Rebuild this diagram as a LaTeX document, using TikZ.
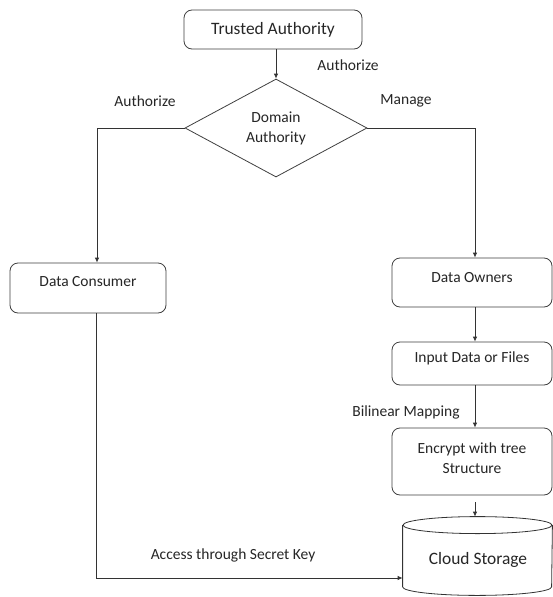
\documentclass[tikz,border=0pt]{standalone}
\usepackage{fontspec}
\setmainfont{Carlito}
\usetikzlibrary{shapes.geometric,arrows.meta,calc}
\begin{document}
\begin{tikzpicture}[x=1pt,y=-1pt,
  line width=0.8pt,
  every node/.style={font=\fontsize{15.5}{20}\selectfont, text=black!85},
  boxn/.style={draw=black!75, rounded corners=8pt, inner sep=0pt},
  arr/.style={draw=black!80, -{Latex[length=5pt,width=4.5pt]}},
  lbl/.style={inner sep=0pt}
]
\useasboundingbox[fill=white] (0,0) rectangle (553,597);

% nodes
\node[boxn, minimum width=178pt, minimum height=39pt, font=\fontsize{17.4}{20}\selectfont] (ta) at (273,29.5) {Trusted Authority};
\node[draw=black!75, diamond, aspect=1.857, minimum width=182pt, minimum height=98pt, inner sep=0pt, align=center] (da) at (276,128) {Domain\\Authority};
\node[boxn, minimum width=156pt, minimum height=50pt,
  label={[lbl, yshift=6pt]center:Data Consumer}] (dc) at (88,288) {};
\node[boxn, minimum width=160pt, minimum height=49pt,
  label={[lbl, yshift=5pt]center:Data Owners}] (dow) at (472,282.5) {};
\node[boxn, minimum width=160pt, minimum height=43pt,
  label={[lbl, yshift=5pt]center:Input Data or Files}] (inp) at (472,363.5) {};
\node[boxn, minimum width=160pt, minimum height=67pt,
  label={[lbl, align=center, yshift=3pt]center:Encrypt with tree\\Structure}] (enc) at (472,461.5) {};

% cylinder (drawn from a named frame)
\node[minimum width=149pt, minimum height=78pt, inner sep=0pt] (cs) at (477.5,556) {};
\path (cs.north west) ++(0,8.5) coordinate (ctl)
  (cs.north east) ++(0,8.5) coordinate (ctr)
  (cs.south west) ++(0,-8.5) coordinate (cbl);
\draw[black!80] ($(cs.north)+(0,8.5)$) ellipse [x radius=74.5pt, y radius=8.5pt];
\draw[black!80] (ctl) -- (cbl) arc[start angle=180, end angle=360, x radius=74.5pt, y radius=8.5pt] -- (ctr);
\node[lbl, font=\fontsize{17.4}{20}\selectfont] (cst) at (478,560) {Cloud Storage};

% connectors
\draw[arr] ([xshift=3pt]ta.south) -- (da.north);
\draw[arr] (da.west) -| ([xshift=9pt]dc.north);
\draw[arr] (da.east) -| ([xshift=3pt]dow.north);
\draw[arr] ([xshift=3pt]dow.south) -- ([xshift=3pt]inp.north);
\draw[arr] ([xshift=3pt]inp.south) -- ([xshift=3pt]enc.north);
\coordinate (ctop) at ($(cs.north)+(-2.5,0)$);
\draw[arr] ([xshift=3pt]enc.south) ++(0,7) coordinate (es) -- (ctop);
\coordinate (cin) at ($(cs.west)+(0,22)$);
\draw[arr] ([xshift=8pt]dc.south) |- (cin);

% labels
\node[lbl] (l1) at (348,65) {Authorize};
\node[lbl] (l2) at (145,101) {Authorize};
\node[lbl] (l3) at (406,101) {Manage};
\node[lbl] (l4) at (406,412) {Bilinear Mapping};
\node[lbl] (l5) at (233,555) {Access through Secret Key};
\end{tikzpicture}
\end{document}
